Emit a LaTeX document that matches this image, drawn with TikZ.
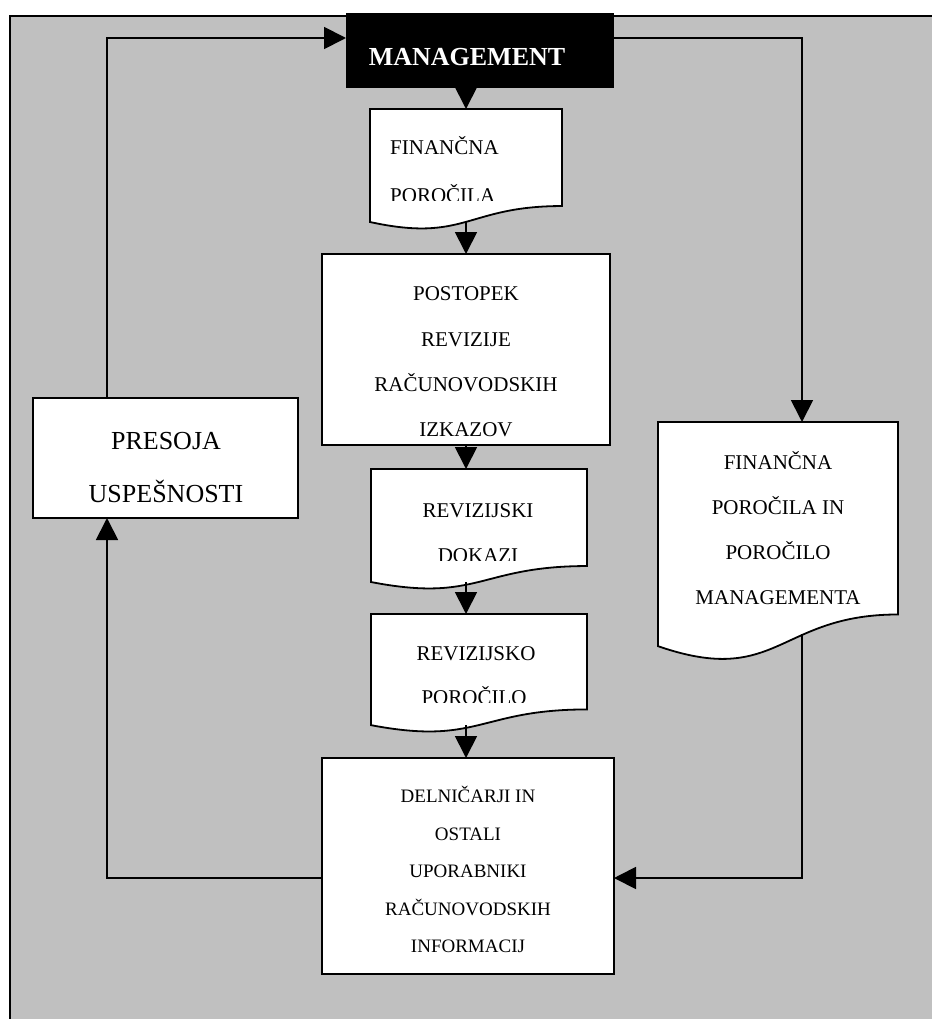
\documentclass[tikz,border=0pt]{standalone}
\usepackage{fontspec}
\setmainfont{Liberation Serif}
\usetikzlibrary{arrows.meta}
\definecolor{bggray}{HTML}{C0C0C0}
\tikzset{
  box/.style={draw=black, line width=1.8pt, fill=white, inner sep=0pt, outer sep=0pt, anchor=north west},
  mgmtbox/.style={draw=black, fill=black, inner sep=0pt, outer sep=0pt, anchor=north west},
  hidden/.style={inner sep=0pt, outer sep=0pt, anchor=north west},
  docline/.style={draw=black, line width=1.8pt, fill=white},
  conn/.style={line width=1.8pt},
  arr/.style={conn, -{Triangle[length=22pt,width=22pt]}},
  txt/.style={font=\fontsize{21}{21}\selectfont, anchor=base, inner sep=0pt},
  bigtxt/.style={font=\fontsize{26}{26}\selectfont, anchor=base, inner sep=0pt},
  smalltxt/.style={font=\fontsize{19}{19}\selectfont, anchor=base, inner sep=0pt},
  pics/docshape/.style 2 args={code={
    \path[docline] (0,0) -- (#1,0) -- (#1,0.802*#2)
      .. controls (0.5*#1,0.802*#2) and (0.5*#1,1.107*#2) .. (0,0.934*#2) -- cycle;
  }}
}
\begin{document}
\begin{tikzpicture}[x=1pt,y=-1pt]
\useasboundingbox (0,0) rectangle (932,1019);
% background
\fill[bggray] (10,16) rectangle (932,1019);
\draw[line width=2pt] (10,1019) -- (10,16) -- (932,16);

% MANAGEMENT
\node[mgmtbox, minimum width=267pt, minimum height=74pt] (mgmt) at (346,13) {};
\node[bigtxt, font=\fontsize{26}{26}\selectfont\bfseries, text=white] (mgmttxt) at (467,66) {MANAGEMENT};

% document 1: FINANČNA POROČILA
\pic at (370,109) {docshape={192}{121}};
\node[hidden, minimum width=192pt, minimum height=113pt] (fin) at (370,109) {};
\node[txt, anchor=base west] (fin1) at (390,155) {FINANČNA};
\begin{scope}
\clip (370,150) rectangle (562,200.5);
\node[txt, anchor=base west] (fin2) at (390,202) {POROČILA};
\end{scope}

% POSTOPEK REVIZIJE
\node[box, minimum width=288pt, minimum height=191pt] (post) at (322,254) {};
\node[txt] (post1) at (466,300) {POSTOPEK};
\node[txt] (post2) at (466,346) {REVIZIJE};
\node[txt] (post3) at (466,391) {RAČUNOVODSKIH};
\node[txt] (post4) at (466,436) {IZKAZOV};

% document 2: REVIZIJSKI DOKAZI
\pic at (371,469) {docshape={216}{121}};
\node[hidden, minimum width=216pt, minimum height=113pt] (dok) at (371,469) {};
\node[txt] (dok1) at (478,517) {REVIZIJSKI};
\begin{scope}
\clip (371,520) rectangle (587,560);
\node[txt] (dok2) at (478,562) {DOKAZI};
\end{scope}

% document 3: REVIZIJSKO POROČILO
\pic at (371,614) {docshape={216}{119}};
\node[hidden, minimum width=216pt, minimum height=111pt] (rep) at (371,614) {};
\node[txt] (rep1) at (476,660) {REVIZIJSKO};
\begin{scope}
\clip (371,665) rectangle (587,702.5);
\node[txt] (rep2) at (474,704) {POROČILO};
\end{scope}

% DELNIČARJI
\node[box, minimum width=292pt, minimum height=216pt] (deln) at (322,758) {};
\node[smalltxt] (deln1) at (468,802) {DELNIČARJI IN};
\node[smalltxt] (deln2) at (468,840) {OSTALI};
\node[smalltxt] (deln3) at (468,877) {UPORABNIKI};
\node[smalltxt] (deln4) at (468,915) {RAČUNOVODSKIH};
\node[smalltxt] (deln5) at (468,952) {INFORMACIJ};

% PRESOJA USPEŠNOSTI
\node[box, minimum width=265pt, minimum height=120pt] (pres) at (33,398) {};
\node[bigtxt] (pres1) at (166,449) {PRESOJA};
\node[bigtxt] (pres2) at (166,502) {USPEŠNOSTI};

% right document
\pic at (658,422) {docshape={240}{240}};
\node[hidden, minimum width=240pt, minimum height=213pt] (rdoc) at (658,422) {};
\node[txt] (rdoc1) at (778,469) {FINANČNA};
\node[txt] (rdoc2) at (778,514) {POROČILA IN};
\node[txt] (rdoc3) at (778,559) {POROČILO};
\node[txt] (rdoc4) at (778,604) {MANAGEMENTA};

% routing points
\coordinate (rdocout) at (802,634);
\coordinate (cR) at (802,878);
\coordinate (cL) at (107,878);
\coordinate (cTL) at (107,38);
\coordinate (cTR) at (802,38);

% connectors
\draw[arr] (mgmt.south -| fin.north) -- (fin.north);
\draw[arr] (fin.south) -- (fin.south |- post.north);
\draw[arr] (post.south -| fin.south) -- (fin.south |- dok.north);
\draw[arr] (dok.south -| fin.south) -- (fin.south |- rep.north);
\draw[arr] (rep.south -| fin.south) -- (fin.south |- deln.north);
\draw[arr] (cTR -| mgmt.east) -- (cTR) -- (cTR |- rdoc.north);
\draw[arr] (rdocout) -- (cR) -- (cR -| deln.east);
\draw[arr] (cL -| deln.west) -- (cL) -- (cL |- pres.south);
\draw[arr] (cTL |- pres.north) -- (cTL) -- (cTL -| mgmt.west);
\end{tikzpicture}
\end{document}
